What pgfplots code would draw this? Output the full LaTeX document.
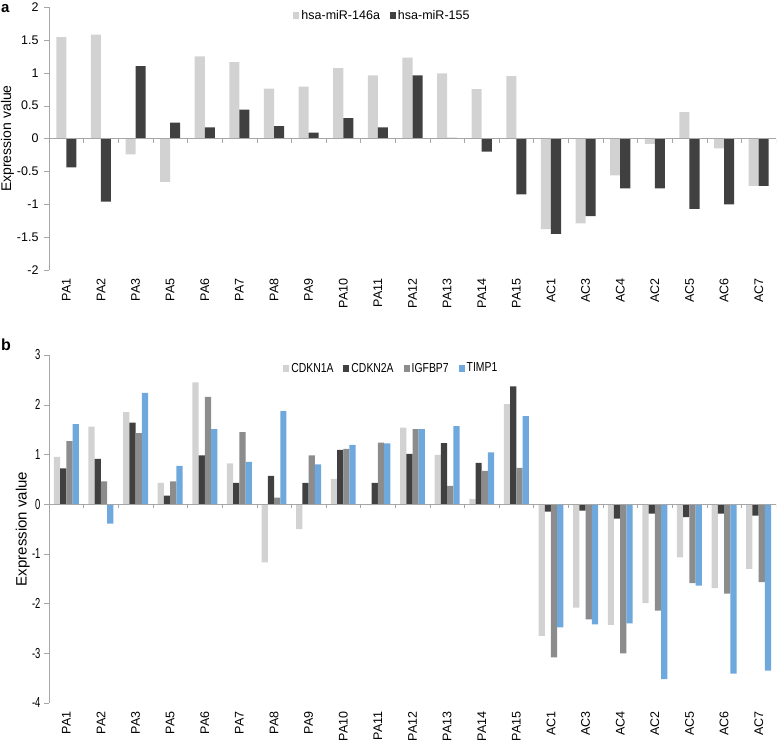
\documentclass[border=0pt]{standalone}
\usepackage{graphicx}
\usepackage{fontspec}
\setmainfont{Liberation Sans}
\usepackage{pgfplots}
\pgfplotsset{compat=1.18}
\usepackage{pgfplotstable}
\usetikzlibrary{calc}

\definecolor{lightbar}{HTML}{D2D2D2}
\definecolor{darkbar}{HTML}{404040}
\definecolor{midbar}{HTML}{8C8C8C}
\definecolor{bluebar}{HTML}{6FA8DC}
\definecolor{axisgray}{HTML}{A6A6A6}

% panel a: miRNA expression
\pgfplotstableread{
x mirA mirB
0  1.54 -0.44
1  1.58 -0.96
2  -0.24 1.10
3  -0.66 0.24
4  1.25 0.17
5  1.16 0.44
6  0.76 0.19
7  0.79 0.09
8  1.07 0.31
9  0.96 0.17
10 1.23 0.96
11 0.99 0.01
12 0.75 -0.20
13 0.95 -0.85
14 -1.38 -1.45
15 -1.29 -1.18
16 -0.56 -0.76
17 -0.08 -0.76
18 0.40 -1.07
19 -0.15 -1.00
20 -0.72 -0.72
}\tabA

% panel b: gene expression
\pgfplotstableread{
x cdknA cdknB igf timp
0  0.95 0.72 1.27 1.61
1  1.56 0.91 0.46 -0.39
2  1.85 1.64 1.43 2.24
3  0.43 0.17 0.46 0.77
4  2.45 0.98 2.16 1.51
5  0.82 0.43 1.45 0.85
6  -1.17 0.57 0.13 1.87
7  -0.50 0.43 0.98 0.80
8  0.51 1.09 1.11 1.19
9  -0.02 0.43 1.24 1.22
10 1.54 1.01 1.51 1.51
11 0.99 1.23 0.37 1.57
12 0.10 0.83 0.67 1.04
13 2.01 2.37 0.73 1.77
14 -2.65 -0.15 -3.08 -2.48
15 -2.08 -0.13 -2.32 -2.42
16 -2.43 -0.29 -3.00 -2.40
17 -1.99 -0.19 -2.14 -3.52
18 -1.07 -0.26 -1.59 -1.64
19 -1.69 -0.19 -1.80 -3.41
20 -1.30 -0.23 -1.57 -3.35
}\tabB

\pgfplotsset{
  panel/.style={
    scale only axis, width=727pt,
    xmin=-0.5, xmax=20.5,
    axis lines=left, axis line style={-},
    x axis line style={draw=none},
    y axis line style={axisgray},
    xtick={0,...,20},
    xticklabels={PA1,PA2,PA3,PA5,PA6,PA7,PA8,PA9,PA10,PA11,PA12,PA13,PA14,PA15,AC1,AC3,AC4,AC2,AC5,AC6,AC7},
    xtick style={draw=none},
    x tick label style={rotate=90, anchor=east, font=\fontsize{12.5}{12.5}\selectfont},
    ytick style={axisgray},
    tick align=outside, major tick length=5pt,
    /pgf/number format/assume math mode=true,
    ylabel={Expression value},
    legend style={draw=none, fill=none, inner sep=0pt, legend columns=-1,
      /tikz/every even column/.append style={column sep=8pt}},
    every axis plot/.append style={draw=none},
  },
  sq/.style={legend image code/.code={\path[##1] (0pt,-3.5pt) rectangle (6pt,3.5pt);}},
}

\begin{document}
\begin{tikzpicture}
\path[use as bounding box] (-49pt,7pt) rectangle (729pt,-740pt);
\begin{axis}[
  panel, name=pa,
  at={(0,0)}, anchor=north west,
  height=263pt,
  ymin=-2, ymax=2,
  ytick={-2,-1.5,...,2},
  y tick label style={font=\fontsize{12.5}{12.5}\selectfont, xshift=-2pt},
  ybar=0pt, bar width=0.29,
  every axis y label/.style={at={(axis description cs:-0.057,0.5)}, rotate=90, anchor=center, font=\fontsize{14}{14}\selectfont},
  legend style={at={(0.336,0.966)}, anchor=west, font=\fontsize{12.5}{12.5}\selectfont},
]
\addplot[fill=lightbar, sq] table[x=x, y=mirA] {\tabA};
\addplot[fill=darkbar, sq] table[x=x, y=mirB] {\tabA};
\legend{hsa-miR-146a, hsa-miR-155}
\draw[axisgray] (axis cs:-0.5,0) -- (axis cs:20.5,0);
\pgfplotsinvokeforeach{0.5,1.5,...,20.5}{\draw[axisgray] (axis cs:#1,0) -- ++(0pt,-4pt);}
\end{axis}
\node[anchor=base west, inner sep=0pt, font=\bfseries\fontsize{15}{15}\selectfont] at ($(pa.north west)+(-48pt,-5pt)$) {a};

\begin{axis}[
  panel, name=pb,
  at={(0,-348pt)}, anchor=north west,
  height=348pt,
  ymin=-4, ymax=3,
  ytick={-4,...,3},
  yticklabel={\scalebox{0.65}[1]{\pgfmathprintnumber{\tick}}},
  y tick label style={font=\fontsize{14.5}{14.5}\selectfont},
  ybar=0pt, bar width=0.18,
  every axis y label/.style={at={(axis description cs:-0.036,0.5)}, rotate=90, anchor=center, font=\fontsize{15}{15}\selectfont},
  legend style={at={(0.322,0.962)}, anchor=west, font=\fontsize{13}{13}\selectfont},
]
\addplot[fill=lightbar, sq] table[x=x, y=cdknA] {\tabB};
\addplot[fill=darkbar, sq] table[x=x, y=cdknB] {\tabB};
\addplot[fill=midbar, sq] table[x=x, y=igf] {\tabB};
\addplot[fill=bluebar, sq] table[x=x, y=timp] {\tabB};
\legend{\scalebox{0.8}[1]{CDKN1A}, \scalebox{0.8}[1]{CDKN2A}, \scalebox{0.8}[1]{IGFBP7}, \scalebox{0.8}[1]{TIMP1}}
\draw[axisgray] (axis cs:-0.5,0) -- (axis cs:20.5,0);
\pgfplotsinvokeforeach{0.5,1.5,...,20.5}{\draw[axisgray] (axis cs:#1,0) -- ++(0pt,-4pt);}
\end{axis}
\node[anchor=base west, inner sep=0pt, font=\bfseries\fontsize{16}{16}\selectfont] at ($(pb.north west)+(-48pt,5pt)$) {b};
\end{tikzpicture}
\end{document}
